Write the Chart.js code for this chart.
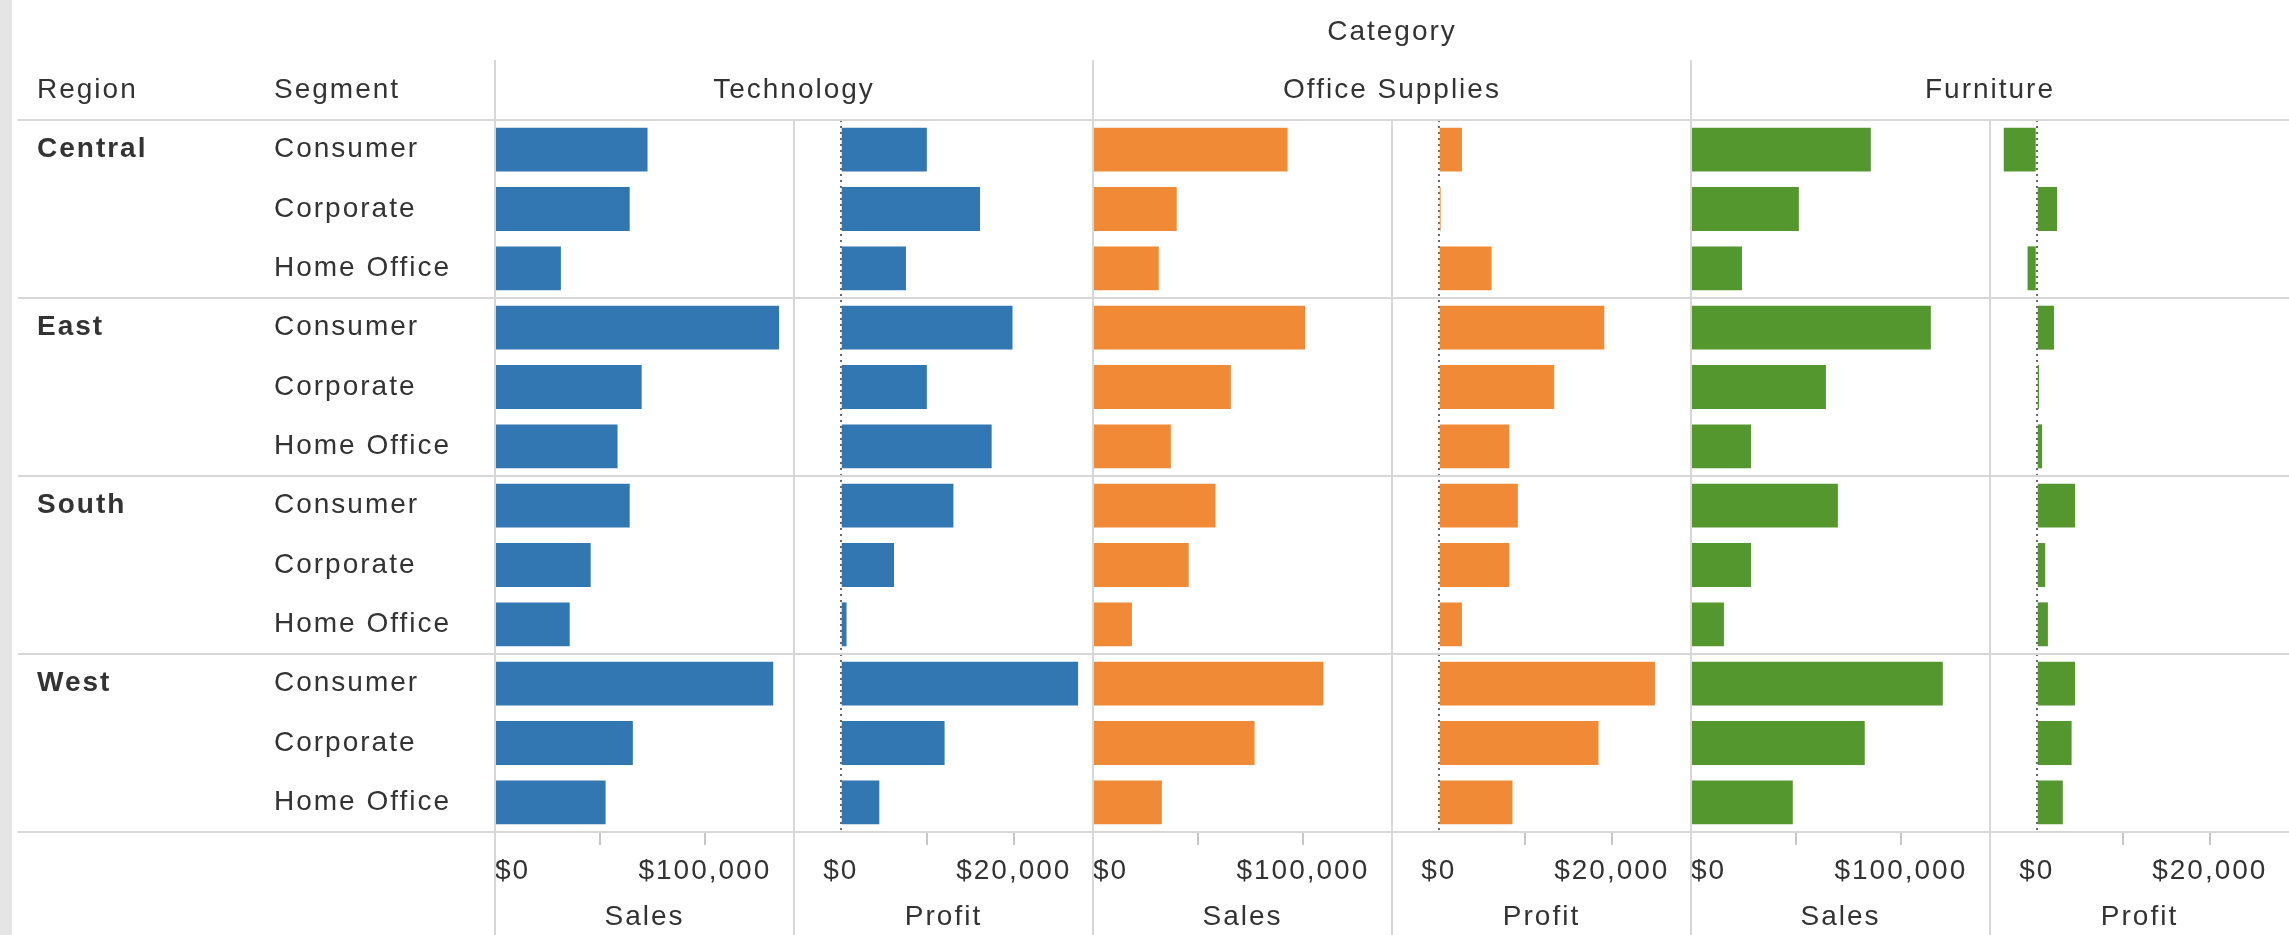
<!DOCTYPE html>
<html>
<head>
<meta charset="utf-8">
<title>Sales and Profit by Region, Segment and Category</title>
<script src="https://cdn.jsdelivr.net/npm/chart.js@4.4.1/dist/chart.umd.min.js"></script>
<style>
  html, body { margin: 0; padding: 0; background: #fff; }
  #chart { display: block; }
</style>
</head>
<body>
<canvas id="chart" width="2289" height="935"></canvas>
<script>
const regions    = ['Central', 'East', 'South', 'West']
const segments   = ['Consumer', 'Corporate', 'Home Office']
const categories = ['Technology', 'Office Supplies', 'Furniture']
const measures   = ['Sales', 'Profit']
const colors     = ['#3277b2', '#f18a36', '#54972f']

// rows: Central, East, South, West, each with Consumer, Corporate, Home Office
const techSales       = [72700, 64200, 31400, 135400, 69900, 58400, 64200, 45600, 35600, 132600, 65700, 52700]
const techProfit      = [9950, 16100, 7540, 19850, 9950, 17440, 13020, 6160, 670, 27430, 12000, 4460]
const officeSales     = [92750, 39900, 31350, 101100, 65700, 37100, 58400, 45600, 18550, 109800, 77000, 32800]
const officeProfit    = [2680, 220, 6110, 19130, 13340, 8160, 9140, 8160, 2680, 24980, 18460, 8520]
const furnitureSales  = [85700, 51400, 24300, 114300, 64300, 28600, 70000, 28600, 15700, 120000, 82800, 48500]
const furnitureProfit = [-3810, 2350, -1060, 1990, 270, 620, 4430, 980, 1290, 4430, 4030, 3010]

const salesRange       = [0, 142500]
const profitRange      = [-5400, 29150]
const salesTicks       = [0, 50000, 100000]
const salesTickLabels  = ['$0', '', '$100,000']
const profitTicks      = [0, 10000, 20000]
const profitTickLabels = ['$0', '', '$20,000']

const TEXT = '#333333'
const LINE = '#d7d7d7'
const FONT = { family: '"Liberation Sans", Arial, sans-serif', size: 28 }
const BOLD = { family: '"Liberation Sans", Arial, sans-serif', size: 28, weight: 'bold' }

const rowSegments = regions.flatMap(() => segments)
const rowRegions  = regions.flatMap(r => [r, ...segments.slice(1).map(() => '')])

const paneData = [techSales, techProfit, officeSales, officeProfit, furnitureSales, furnitureProfit]
const paneIds  = paneData.map((_, i) => 'x' + i)

function paneScale(measure) {
  const isSales = measure === 'Sales'
  const [min, max] = isSales ? salesRange : profitRange
  const values = isSales ? salesTicks : profitTicks
  const labels = isSales ? salesTickLabels : profitTickLabels
  return {
    type: 'linear',
    position: 'bottom',
    stack: 'panes',
    stackWeight: 1,
    bounds: 'data',
    min, max,
    afterBuildTicks: s => {
      s.ticks = [min, ...values, max]
        .filter((v, i, a) => a.indexOf(v) === i)
        .map(value => ({ value }))
    },
    afterFit: s => {
      s.height = 103
      s.paddingLeft = 0
      s.paddingRight = 0
    },
    grid: {
      lineWidth: 2,
      color: c => (!isSales && c.tick && c.tick.value === 0) ? '#6a6a6a' : 'rgba(0,0,0,0)',
      drawTicks: true,
      tickLength: 13,
      tickWidth: 2,
      tickColor: c => (c.tick && c.tick.value !== 0 && values.includes(c.tick.value)) ? '#c6c6c6' : 'rgba(0,0,0,0)',
    },
    border: { display: false, dash: [2, 4] },
    ticks: {
      align: 'inner',
      autoSkip: false,
      maxRotation: 0,
      padding: 9,
      color: TEXT,
      font: FONT,
      callback: v => { const i = values.indexOf(v); return i < 0 ? '' : labels[i] },
    },
    title: { display: true, text: measure, color: TEXT, font: FONT, padding: { top: 0, bottom: 1 } },
  }
}

const scales = {
  yr: {
    type: 'category',
    labels: rowRegions,
    position: 'left',
    weight: 1,
    offset: true,
    grid: { display: false },
    border: { display: false },
    ticks: { crossAlign: 'far', autoSkip: false, padding: 0, color: TEXT, font: BOLD },
    afterFit: s => { s.width = 237 },
  },
  y: {
    type: 'category',
    position: 'left',
    weight: 0,
    offset: true,
    grid: { display: false },
    border: { display: false },
    ticks: { crossAlign: 'far', autoSkip: false, padding: 0, color: TEXT, font: FONT },
    afterFit: s => { s.width = 221 },
  },
}
paneIds.forEach((id, i) => { scales[id] = paneScale(measures[i % 2]) })

const frame = {
  id: 'frame',
  beforeDraw(chart) {
    chart.ctx.letterSpacing = '2px'
  },
  beforeDatasetsDraw(chart) {
    const { ctx, chartArea } = chart
    const s = chart.scales
    const rowH = s.y.getPixelForValue(1) - s.y.getPixelForValue(0)
    ctx.save()
    ctx.fillStyle = '#e5e5e5'
    ctx.fillRect(0, 0, 12, chart.height)

    ctx.strokeStyle = LINE
    ctx.lineWidth = 2
    ctx.beginPath()
    for (let i = 0; i <= rowSegments.length; i += segments.length) {
      const y = Math.round(s.y.getPixelForValue(i) - rowH / 2)
      ctx.moveTo(18, y)
      ctx.lineTo(chart.width, y)
    }
    paneIds.forEach((id, i) => {
      const x = Math.round(s[id].left)
      ctx.moveTo(x, i % 2 ? chartArea.top : 60)
      ctx.lineTo(x, chart.height)
    })
    ctx.stroke()

    ctx.letterSpacing = '2px'
    ctx.fillStyle = TEXT
    ctx.font = '28px "Liberation Sans", Arial, sans-serif'
    ctx.textBaseline = 'middle'
    ctx.textAlign = 'left'
    ctx.fillText('Region', s.yr.left, 90)
    ctx.fillText('Segment', s.y.left, 90)
    ctx.textAlign = 'center'
    categories.forEach((c, k) => {
      const l = s[paneIds[2 * k]].left
      const r = s[paneIds[2 * k + 1]].right
      ctx.fillText(c, (l + r) / 2, 90)
    })
    ctx.fillText('Category', (chartArea.left + chartArea.right) / 2, 32)
    ctx.restore()
  },
}

new Chart(document.getElementById('chart'), {
  type: 'bar',
  data: {
    labels: rowSegments,
    datasets: paneData.map((data, i) => ({
      data,
      xAxisID: paneIds[i],
      yAxisID: 'y',
      backgroundColor: colors[Math.floor(i / 2)],
      borderWidth: 0,
      grouped: false,
      categoryPercentage: 1,
      barPercentage: 0.74,
    })),
  },
  options: {
    indexAxis: 'y',
    responsive: false,
    devicePixelRatio: 1,
    animation: false,
    layout: { padding: { top: 120, left: 37, right: 0, bottom: 0 } },
    plugins: { legend: { display: false }, tooltip: { enabled: false } },
    scales,
  },
  plugins: [frame],
})
</script>
</body>
</html>
